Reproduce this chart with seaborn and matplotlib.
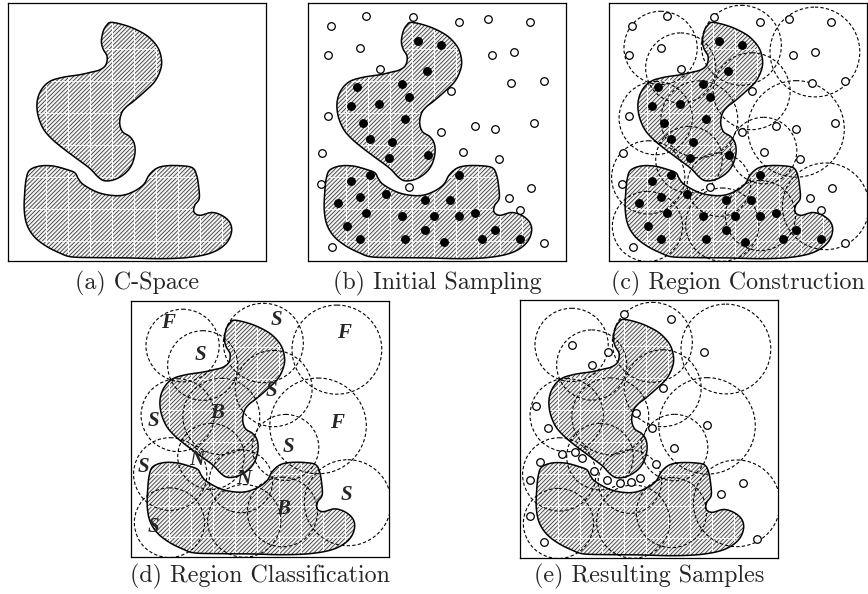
import numpy as np
import pandas as pd
import matplotlib
matplotlib.use("Agg")
import matplotlib.pyplot as plt
import seaborn as sns
from matplotlib.patches import Polygon, Circle

# ---------------- data (panel units: box = 0..100, y downward) ----------------
upper_u = [40.1, 45.9, 51.1, 55.0, 58.2, 59.5, 59.1, 56.9, 53.0, 48.5, 45.9, 44.0, 43.3, 44.4,
           47.2, 48.9, 49.2, 47.9, 45.3, 41.4, 37.5, 34.9, 31.7, 26.5, 21.3, 16.8, 13.6, 11.6,
           11.3, 12.9, 16.2, 21.3, 27.8, 32.3, 35.6, 37.9, 38.4, 36.9, 36.2, 36.9, 38.2]
upper_v = [7.5, 8.8, 11.0, 13.6, 17.5, 22.0, 25.9, 30.4, 34.3, 38.2, 40.2, 42.7, 46.6, 49.9,
           51.8, 54.4, 58.3, 62.8, 66.1, 68.4, 68.9, 67.4, 64.1, 60.2, 56.3, 52.5, 48.6, 43.4,
           38.2, 33.7, 30.4, 28.8, 27.8, 26.8, 25.9, 24.0, 20.7, 17.9, 14.9, 11.0, 8.7]

lower_u = [8.4, 12.3, 17.5, 22.6, 25.9, 27.2, 29.1, 34.3, 39.5, 44.6, 49.2, 52.7, 54.7, 57.6,
           61.4, 67.3, 71.5, 73.1, 73.9, 74.1, 72.4, 72.1, 74.4, 78.9, 82.8, 85.8, 86.7, 85.4,
           82.1, 77.0, 69.2, 58.9, 45.9, 34.3, 24.6, 20.1, 14.9, 10.3, 7.4, 6.3, 6.5, 7.1]
lower_v = [64.8, 63.2, 63.2, 64.5, 65.8, 68.0, 70.3, 73.2, 74.5, 74.5, 72.8, 70.2, 66.7, 64.1,
           63.1, 63.1, 63.9, 66.7, 71.2, 75.8, 78.4, 81.0, 82.3, 81.2, 82.3, 84.8, 88.1, 92.0,
           95.2, 97.4, 98.7, 99.1, 98.8, 98.7, 98.4, 96.9, 94.3, 90.7, 86.1, 80.3, 73.2, 68.0]

free_u = [9.0, 22.6, 40.6, 58.7, 69.9, 86.1, 7.7, 20.3, 28.0, 71.2, 80.0, 55.5, 78.7, 91.6, 7.7,
          51.4, 64.9, 72.5, 87.5, 5.5, 60.0, 74.2, 5.2, 39.0, 86.5, 77.8, 82.3, 9.3, 91.6]
free_v = [8.8, 4.9, 5.5, 7.5, 6.2, 7.5, 20.1, 17.5, 25.6, 20.1, 18.8, 34.2, 31.2, 30.4, 43.9,
          50.1, 47.7, 48.8, 46.5, 58.1, 57.8, 60.6, 70.1, 71.4, 71.8, 75.6, 80.3, 94.4, 93.1]

obst_u = [42.6, 51.4, 46.2, 36.4, 19.1, 39.0, 16.5, 27.7, 37.7, 21.3, 23.9, 32.6, 31.4, 46.5,
          23.9, 16.5, 58.7, 20.3, 30.1, 11.6, 45.2, 55.1, 22.6, 36.4, 48.8, 58.7, 64.9, 15.2,
          45.2, 72.5, 20.3, 37.7, 52.6, 67.5, 82.3]
obst_v = [14.9, 16.2, 26.2, 31.4, 32.7, 36.4, 40.0, 39.0, 45.1, 46.4, 52.6, 54.0, 60.1, 58.8,
          66.5, 69.0, 66.5, 75.2, 74.0, 77.7, 76.4, 76.4, 81.4, 82.7, 82.7, 82.7, 81.4, 86.5,
          87.8, 87.8, 91.4, 91.4, 92.7, 91.4, 91.4]

circle_u = [20.0, 27.8, 51.3, 79.8, 55.3, 35.0, 18.1, 72.5, 59.9, 15.2, 31.0, 42.6, 84.0, 58.7, 14.9, 43.9]
circle_v = [17.4, 25.2, 16.4, 19.0, 34.2, 45.1, 44.6, 48.8, 57.2, 67.6, 60.7, 70.4, 78.8, 82.4, 86.6, 85.9]
circle_r = [14.2, 13.6, 15.5, 17.4, 14.9, 14.9, 14.2, 18.7, 12.9, 14.2, 12.9, 12.3, 16.8, 13.6, 13.6, 14.2]

label_text = ["F", "S", "S", "F", "S", "B", "S", "F", "S", "S", "N", "N", "S", "B", "S"]
label_u = [14.5, 26.8, 56.5, 82.4, 54.6, 33.2, 8.7, 79.8, 61.0, 4.8, 25.5, 43.6, 83.6, 59.0, 8.7]
label_v = [8.7, 21.0, 7.4, 12.6, 35.2, 43.6, 46.8, 47.5, 57.2, 64.9, 62.3, 69.5, 75.9, 81.1, 88.2]

new_u = [40.3, 58.5, 20.0, 34.2, 71.3, 28.0, 55.3, 6.3, 45.0, 11.0, 51.0, 72.5, 59.8, 16.1, 21.3,
         23.9, 7.8, 52.6, 28.8, 33.9, 38.8, 42.9, 46.5, 3.7, 77.9, 86.3, 3.7, 9.3, 91.7]
new_v = [5.4, 7.5, 17.4, 20.3, 20.0, 25.2, 34.1, 41.1, 43.7, 49.7, 49.5, 48.6, 57.2, 59.8, 58.8,
         61.1, 62.7, 63.6, 66.1, 69.9, 71.1, 70.7, 69.0, 69.9, 75.1, 71.1, 83.6, 93.8, 92.6]

captions = ["(a) C-Space", "(b) Initial Sampling", "(c) Region Construction",
            "(d) Region Classification", "(e) Resulting Samples"]

# ---------------- drawing ----------------
sns.set_theme(style="white")
plt.rcParams["hatch.linewidth"] = 0.6

W, H = 868, 594
fig = plt.figure(figsize=(W / 100, H / 100), dpi=100)


def smooth(pts, n=10):
    P = np.asarray(pts, dtype=float)
    N = len(P)
    t = np.linspace(0, 1, n, endpoint=False)[:, None]
    out = []
    for i in range(N):
        p0, p1, p2, p3 = P[i - 1], P[i], P[(i + 1) % N], P[(i + 2) % N]
        out.append(0.5 * (2 * p1 + (-p0 + p2) * t + (2 * p0 - 5 * p1 + 4 * p2 - p3) * t ** 2
                          + (-p0 + 3 * p1 - 3 * p2 + p3) * t ** 3))
    return np.vstack(out)


def make_ax(x0, y0, w=258, h=258):
    ax = fig.add_axes([x0 / W, 1 - (y0 + h) / H, w / W, h / H])
    ax.set_facecolor("white")
    return ax


def finish(ax):
    ax.set_xlim(0, 100)
    ax.set_ylim(100, 0)
    ax.set_xticks([])
    ax.set_yticks([])
    ax.set_xlabel("")
    ax.set_ylabel("")
    for s in ax.spines.values():
        s.set_visible(True)
        s.set_color("black")
        s.set_linewidth(0.9)


def draw_blobs(ax):
    for us, vs in [(upper_u, upper_v), (lower_u, lower_v)]:
        xy = smooth(np.column_stack([us, vs]))
        fill = Polygon(xy, closed=True, facecolor="#f2f2f2", edgecolor="#3a3a3a",
                       hatch="////////", lw=0, zorder=1)
        ax.add_patch(fill)
        for g in np.arange(6.3, 100, 8.5):
            ln, = ax.plot([g, g], [0, 100], color="white", lw=0.7, zorder=2)
            ln.set_clip_path(fill)
        for g in np.arange(5.5, 100, 12.4):
            ln, = ax.plot([0, 100], [g, g], color="white", lw=0.6, zorder=2)
            ln.set_clip_path(fill)
        ax.add_patch(Polygon(xy, closed=True, fill=False, edgecolor="black", lw=1.1, zorder=3))


def draw_circles(ax):
    for u, v, r in zip(circle_u, circle_v, circle_r):
        ax.add_patch(Circle((u, v), r, fill=False, edgecolor="black", lw=0.8,
                            ls=(0, (3, 2)), zorder=4))


def pts(ax, u, v, face):
    df = pd.DataFrame({"u": u, "v": v})
    sns.scatterplot(data=df, x="u", y="v", ax=ax, s=30, color=face, edgecolor="black",
                    linewidth=0.9, zorder=5, legend=False)


# (a)
ax = make_ax(8, 3)
draw_blobs(ax)
finish(ax)

# (b)
ax = make_ax(308, 3)
draw_blobs(ax)
pts(ax, free_u, free_v, "white")
pts(ax, obst_u, obst_v, "black")
finish(ax)

# (c)
ax = make_ax(609, 3)
draw_blobs(ax)
draw_circles(ax)
pts(ax, free_u, free_v, "white")
pts(ax, obst_u, obst_v, "black")
finish(ax)

# (d)
ax = make_ax(131, 301, 258, 256)
draw_blobs(ax)
draw_circles(ax)
for t, u, v in zip(label_text, label_u, label_v):
    ax.text(u, v, t, fontsize=15, fontweight="bold", fontstyle="italic",
            family=["Liberation Serif", "DejaVu Serif"], ha="center", va="center", zorder=6)
finish(ax)

# (e)
ax = make_ax(520, 300)
draw_blobs(ax)
draw_circles(ax)
pts(ax, new_u, new_v, "white")
finish(ax)

cap_pos = [(137, 283), (437, 283), (738, 283), (260, 576), (649, 576)]
for txt, (x, y) in zip(captions, cap_pos):
    fig.text(x / W, 1 - y / H, txt, family=["cmr10", "DejaVu Serif"], fontsize=17.3,
             ha="center", va="center")

fig.savefig("out.png", dpi=100)
